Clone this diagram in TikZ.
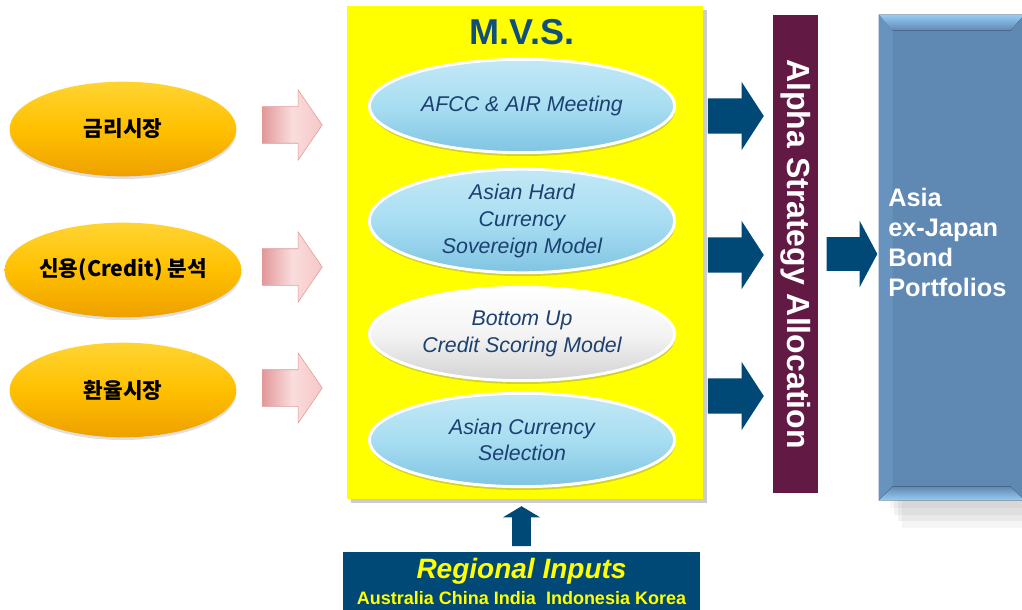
\documentclass[tikz,border=0pt]{standalone}
\usepackage{fontspec}
\setmainfont{Liberation Sans}
\newfontfamily\krfont{Noto Sans CJK KR}
\usepackage{tikz}
\usetikzlibrary{arrows,calc,positioning,shapes,shapes.arrows,shadows}
\definecolor{my_yellow}{RGB}{255,255,0}
\definecolor{my_gold}{RGB}{255,192,0}
\definecolor{my_gold_top}{RGB}{255,212,50}
\definecolor{my_gold_bot}{RGB}{238,160,0}
\definecolor{my_sky}{RGB}{168,222,242}
\definecolor{my_sky_dark}{RGB}{128,196,226}
\definecolor{my_cloud}{RGB}{244,244,244}
\definecolor{my_cloud_dark}{RGB}{210,210,210}
\definecolor{my_ink}{RGB}{28,64,112}
\definecolor{my_title}{RGB}{16,78,124}
\definecolor{my_navy}{RGB}{0,72,118}
\definecolor{my_pink}{RGB}{246,198,198}
\definecolor{my_pink_dark}{RGB}{226,152,152}
\definecolor{my_plum}{RGB}{98,26,69}
\definecolor{my_steel}{RGB}{95,136,178}
\definecolor{my_steel_side}{RGB}{104,147,190}
\definecolor{my_steel_light}{RGB}{150,204,244}
\tikzset{
  in_oval/.style = {ellipse, draw=none, inner sep=0pt, minimum width=170pt, minimum height=71pt,
  top color=my_gold_top, bottom color=my_gold_bot, middle color=my_gold, text=black,
  font=\krfont\bfseries\fontsize{16}{18}\selectfont,
  drop shadow={shadow xshift=0pt, shadow yshift=-2pt, opacity=.25}},
  md_oval/.style = {ellipse, draw=white, line width=2.2pt, inner sep=0pt, minimum width=229pt,
  minimum height=70pt, align=center, text=my_ink, font=\itshape\fontsize{16}{20}\selectfont,
  drop shadow={shadow xshift=0.5pt, shadow yshift=-2.5pt, opacity=.35}},
  md_sky/.style = {md_oval, top color=my_sky!70!white, bottom color=my_sky_dark, middle color=my_sky},
  md_white/.style = {md_oval, top color=white, bottom color=my_cloud_dark, middle color=my_cloud}
}
\begin{document}
\begin{tikzpicture}[x=0.75pt,y=-0.75pt,
    mvs_box/.style={rectangle, fill=my_yellow, minimum width=267pt, minimum height=370pt,
      drop shadow={shadow xshift=3pt, shadow yshift=-3pt, opacity=.4}},
    mvs_title/.style={font=\bfseries\fontsize{27}{30}\selectfont, text=my_title},
    pink_arr/.style={single arrow, draw=my_pink_dark, line width=0.4pt, inner xsep=0pt,
      inner ysep=13.5pt, left color=my_pink_dark, right color=my_pink, middle color=my_pink!60!white,
      minimum height=45pt, single arrow head extend=12.75pt, single arrow tip angle=111},
    navy_arr/.style={single arrow, fill=my_navy, draw=none, inner xsep=0pt, inner ysep=13.1pt,
      minimum height=42pt, single arrow head extend=12.4pt, single arrow tip angle=114},
    alpha_bar/.style={rectangle, fill=my_plum, rotate=-90, minimum width=358.5pt,
      minimum height=33.75pt, text=white, font=\bfseries\fontsize{24}{28}\selectfont},
    asia_box/.style={rectangle, fill=my_steel, minimum width=108.75pt, minimum height=363.75pt,
      drop shadow={shadow xshift=8pt, shadow yshift=-6pt, opacity=.08},
      drop shadow={shadow xshift=11pt, shadow yshift=-11pt, opacity=.1},
      drop shadow={shadow xshift=14pt, shadow yshift=-16pt, opacity=.1},
      drop shadow={shadow xshift=17pt, shadow yshift=-21pt, opacity=.08}},
    asia_lbl/.style={align=left, inner sep=0pt, text=white,
      font=\bfseries\fontsize{19}{22.5}\selectfont},
    region_box/.style={rectangle, fill=my_navy, minimum width=267.75pt, minimum height=52pt},
    region_title/.style={text=my_yellow, font=\bfseries\itshape\fontsize{21}{24}\selectfont},
    region_list/.style={text=my_yellow, font=\bfseries\fontsize{13.5}{15}\selectfont}]
  \useasboundingbox (0,0) rectangle (1022,610);
  \node [mvs_box] (mvs) at (525,252.5) {};
  \node [mvs_title] (title) at (522,32) {M.V.S.};
  \node [md_sky] (afcc) at (522,106) {AFCC \& AIR Meeting};
  \node [md_sky] (sovereign) at (522,221) {Asian Hard\\Currency\\Sovereign Model};
  \node [md_white] (scoring) at (522,334) {Bottom Up\\Credit Scoring Model};
  \node [md_sky] (ccy) at (522,440) {Asian Currency\\Selection};
  \node [in_oval] (rates) at (123,129) {금리시장};
  \node [in_oval] (credit) at (123,270) {신용(Credit) 분석};
  \node [in_oval] (fx) at (123,390) {환율시장};
  \node [pink_arr] (pa_rates) at (286,125) {};
  \node [pink_arr] (pa_credit) at (286,267) {};
  \node [pink_arr] (pa_fx) at (286,388) {};
  \node [navy_arr] (na_top) at (730,116) {};
  \node [navy_arr] (na_mid) at (730,255) {};
  \node [navy_arr] (na_bot) at (730,396) {};
  \node [alpha_bar] (alpha) at (795.5,254) {Alpha Strategy Allocation};
  \node [navy_arr, minimum height=38pt, inner ysep=12.4pt, single arrow tip angle=124] (na_out) at (847.5,254) {};
  \node [asia_box] (asia) at (951.5,257.5) {};
  \fill [top color=my_steel_light, bottom color=my_steel] (asia.north west) -- (asia.north east)
    -- ($(asia.north east)+(-14,16)$) -- ($(asia.north west)+(14,16)$) -- cycle;
  \fill [my_steel_side] (asia.north west) -- ($(asia.north west)+(14,16)$)
    -- ($(asia.south west)+(14,-14)$) -- (asia.south west) -- cycle;
  \fill [top color=my_steel, bottom color=my_steel_light] (asia.south west) -- (asia.south east)
    -- ($(asia.south east)+(-14,-14)$) -- ($(asia.south west)+(14,-14)$) -- cycle;
  \node [asia_lbl, anchor=west] (asia_text) at (888,242) {Asia\\ex-Japan\\Bond\\Portfolios};
  \node [region_box] (region) at (521.5,587) {};
  \node [region_title] (region_head) at (521.5,571) {Regional Inputs};
  \node [region_list] (region_names) at (521.5,598) {Australia China India\ \ Indonesia Korea};
  \node [navy_arr, minimum height=30pt, inner sep=6.75pt, single arrow head extend=7pt,
    single arrow tip angle=118, shape border rotate=90] (na_up) at (521.5,529) {};
\end{tikzpicture}
\end{document}
